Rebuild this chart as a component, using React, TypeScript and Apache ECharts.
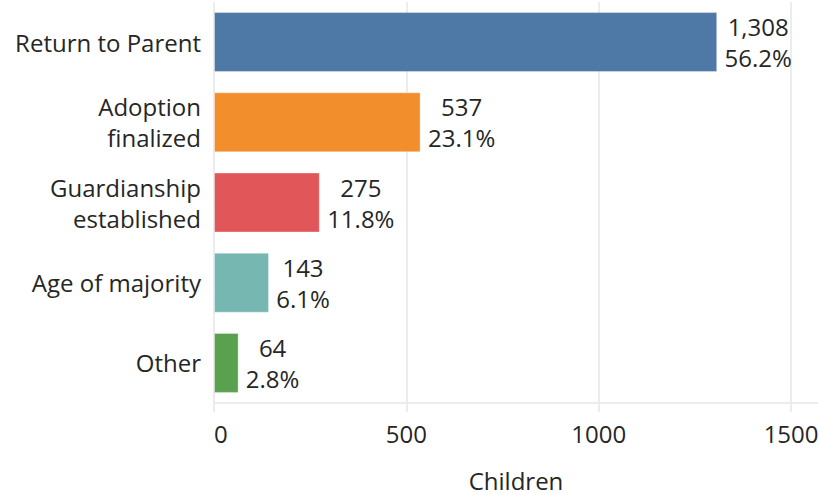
import React, { useEffect, useRef } from "react";
import * as echarts from "echarts";

const categories = ["Return to Parent", "Adoption\nfinalized", "Guardianship\nestablished", "Age of majority", "Other"];
const counts = [1308, 537, 275, 143, 64];
const percents = ["56.2%", "23.1%", "11.8%", "6.1%", "2.8%"];
const colors = ["#4e79a7", "#f28e2b", "#e15759", "#76b7b2", "#59a14f"];
const xTicks = [0, 500, 1000, 1500];

const FONT = "Open Sans";
const FS = 24;
const TEXT = "#262626";

function measure(t: string): number {
  const c = document.createElement("canvas").getContext("2d");
  if (!c) return t.length * FS * 0.55;
  c.font = `${FS}px "${FONT}"`;
  return c.measureText(t).width;
}

export default function App() {
  const ref = useRef<HTMLDivElement>(null);
  useEffect(() => {
    if (!ref.current) return;
    const chart = echarts.init(ref.current, null, { renderer: "svg" });
    const data = counts.map((v, i) => {
      const top = v.toLocaleString("en-US");
      const w = Math.ceil(Math.max(measure(top), measure(percents[i])));
      return {
        value: v,
        itemStyle: { color: colors[i], borderColor: "rgba(255,255,255,0.35)", borderWidth: 1 },
        label: {
          formatter: `{l|${top}}\n{l|${percents[i]}}`,
          rich: { l: { width: w, align: "center", fontFamily: FONT, fontSize: FS, color: TEXT, lineHeight: 31 } },
        },
      };
    });
    chart.setOption({
      animation: false,
      backgroundColor: "#ffffff",
      grid: { left: 214, right: 0, top: 2, bottom: 92, containLabel: false, outerBoundsMode: "none" },
      xAxis: {
        type: "value",
        min: 0,
        max: 1570,
        interval: 500,
        name: "Children",
        nameLocation: "middle",
        nameGap: 65,
        nameTextStyle: { fontFamily: FONT, fontSize: FS, color: TEXT },
        axisLine: { show: true, lineStyle: { color: "#ececec", width: 2 } },
        axisTick: { show: true, length: 9, lineStyle: { color: "#ececec", width: 2 } },
        splitLine: { show: true, showMaxLine: false, lineStyle: { color: "#ececec", width: 2 } },
        axisLabel: {
          fontFamily: FONT,
          fontSize: FS,
          color: TEXT,
          margin: 18,
          showMaxLabel: false,
          alignMinLabel: "left",
          formatter: (v: number) => (xTicks.includes(v) ? String(v) : ""),
        },
      },
      yAxis: {
        type: "category",
        data: categories,
        inverse: true,
        axisLine: { show: false },
        axisTick: { show: false },
        splitLine: { show: false },
        axisLabel: {
          fontFamily: FONT,
          fontSize: FS,
          color: TEXT,
          margin: 13,
          lineHeight: 31,
          align: "right",
        },
      },
      series: [
        {
          type: "bar",
          data,
          barWidth: 60,
          label: { show: true, position: "right", distance: 7 },
        },
      ],
    });
    return () => chart.dispose();
  }, []);
  return <div ref={ref} style={{ position: "fixed", left: 0, top: 0, width: 818, height: 495 }} />;
}
